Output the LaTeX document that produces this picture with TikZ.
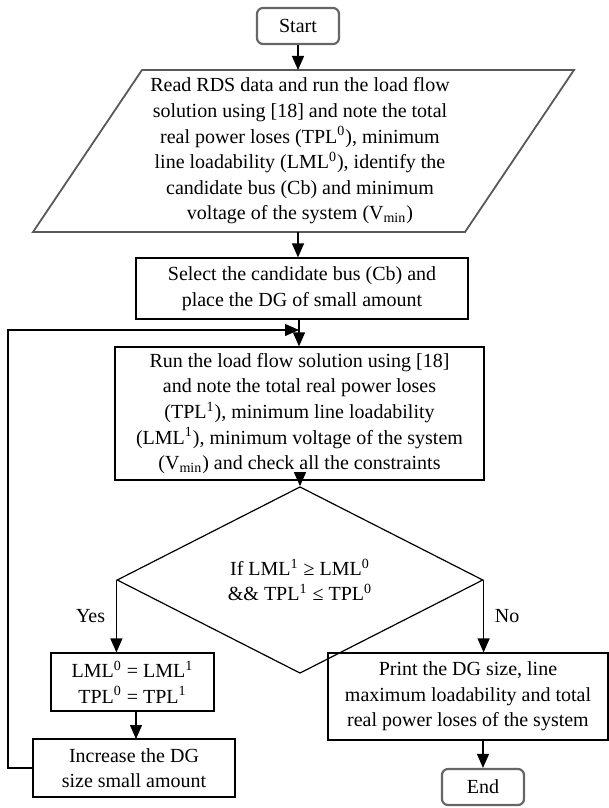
\documentclass[tikz,border=0pt]{standalone}
\usepackage{fontspec}
\setmainfont{Liberation Serif}
\usetikzlibrary{arrows.meta, shapes, positioning}
\tikzset{
  term/.style={rectangle, rounded corners=3pt, draw=black!60, line width=1.1pt,
               minimum width=41pt, minimum height=18pt, inner sep=0pt},
  stepbox/.style={rectangle, draw=black, line width=0.6pt, align=center,
                  inner sep=0pt},
  cond/.style={diamond, draw=black, line width=0.6pt, align=center,
               inner sep=0pt, minimum width=183pt, minimum height=73pt},
  flow/.style={-{Triangle[length=7pt, width=6pt]}, line width=0.6pt},
  lbl/.style={font=\fontsize{10}{12}\selectfont}
}
\begin{document}
\begin{tikzpicture}[x=0.5pt, y=-0.5pt, font=\fontsize{10}{12.8}\selectfont]
  \useasboundingbox (0,0) rectangle (609,808);
  % terminals and steps
  \node[term] (start) at (298,26) {Start};
  \draw[draw=black!65, line width=0.9pt] (142,70) -- (574,70) -- (465,232) -- (33,232) -- cycle;
  \node[align=center] (read) at (300,151)
    {Read RDS data and run the load flow\\
     solution using [18] and note the total\\
     real power loses (TPL\textsuperscript{0}), minimum\\
     line loadability (LML\textsuperscript{0}), identify the\\
     candidate bus (Cb) and minimum\\
     voltage of the system (V\textsubscript{min})};
  \coordinate (readtop) at (298,70);
  \coordinate (readbot) at (298,232);
  \node[stepbox, minimum width=166pt, minimum height=30.5pt] (select) at (302,288.5)
    {Select the candidate bus (Cb) and\\ place the DG of small amount};
  \node[stepbox, minimum width=184.5pt, minimum height=66.5pt] (run) at (299.5,413.5)
    {Run the load flow solution using [18]\\
     and note the total real power loses\\
     (TPL\textsuperscript{1}), minimum line loadability\\
     (LML\textsuperscript{1}), minimum voltage of the system\\
     (V\textsubscript{min}) and check all the constraints};
  \node[cond] (check) at (300,580)
    {If LML\textsuperscript{1} ≥ LML\textsuperscript{0}\\ \&\& TPL\textsuperscript{1} ≤ TPL\textsuperscript{0}};
  \node[stepbox, minimum width=81.5pt, minimum height=29pt] (update) at (132.5,682)
    {LML\textsuperscript{0} = LML\textsuperscript{1}\\ TPL\textsuperscript{0} = TPL\textsuperscript{1}};
  \node[stepbox, minimum width=101pt, minimum height=29pt] (inc) at (134,768)
    {Increase the DG\\ size small amount};
  \node[stepbox, minimum width=140pt, minimum height=43.5pt] (print) at (468,696.5)
    {Print the DG size, line\\ maximum loadability and total\\ real power loses of the system};
  \node[term] (end) at (483,787) {End};
  \coordinate (loopin) at (299,330);
  % connectors
  \draw[flow] (start) -- (readtop);
  \draw[flow] (readbot) -- (select.north -| readbot);
  \draw[flow] (select.south -| loopin) -- (run.north -| loopin);
  \draw[flow] (run.south -| check.north) -- (check.north);
  \draw[flow] (check.west) -- node[lbl, left=2pt] {Yes} (check.west |- update.north);
  \draw[flow] (check.east) -- node[lbl, right=2pt] {No} (check.east |- print.north);
  \draw[flow] (136,711) -- (136,739);
  \draw[flow] (end.north |- print.south) -- (end.north);
  \draw[flow] (inc.west) -- (8,768) |- (loopin);
\end{tikzpicture}
\end{document}
